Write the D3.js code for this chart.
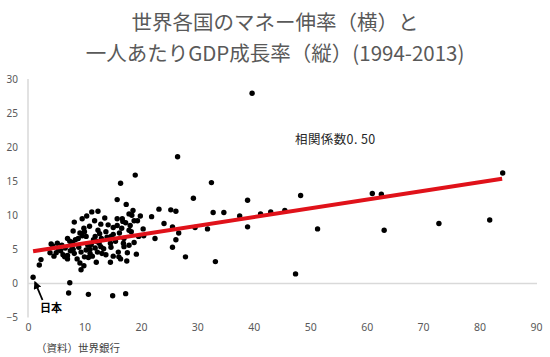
<!DOCTYPE html>
<html><head><meta charset="utf-8">
<script src="https://cdn.jsdelivr.net/npm/d3@7"></script>
<style>
html,body{margin:0;padding:0;background:#fff;}
svg{display:block;}
</style>
</head><body>
<div id="chart"></div>
<script>
// ---- data ----
const titleLines = ["世界各国のマネー伸率（横）と", "一人あたりGDP成長率（縦）(1994-2013)"];
const xTicks = [0,10,20,30,40,50,60,70,80,90];
const yTicks = [-5,0,5,10,15,20,25,30];
// money growth (x, %) of each country
const moneyGrowth = [
 0.9, 2.0, 2.3, 7.4, 7.2, 10.7,
 8.2, 9.6, 10.4, 11.3, 11.8, 12.4,
 4.1, 4.4, 5.0, 4.6, 3.9, 6.2, 6.5, 7.0, 7.0,
 7.0, 7.4, 7.9, 8.4, 8.9, 9.2, 9.6, 10.0, 10.3,
 8.7, 9.2, 9.4, 9.9,
 10.6, 11.0, 11.2, 11.6, 12.1,
 5.4, 7.5, 8.0, 8.2, 10.7, 11.0, 10.0, 5.8,
 19.0, 16.4, 15.8, 17.4, 18.6, 23.2, 18.4, 17.9, 15.8, 16.7, 16.8, 17.3, 21.9,
 18.8, 19.4, 12.9, 20.4, 15.1, 15.8, 17.9, 18.3, 12.4, 12.7, 11.9, 14.7, 15.1,
 17.0, 22.5, 24.1, 13.0, 14.0, 14.6, 14.7, 16.9, 17.0, 17.9, 12.9, 11.9, 12.3,
 13.1, 13.8, 15.1, 16.1, 16.4, 12.1, 14.6, 17.5, 15.0, 17.3,
 5.2, 6.0, 6.6, 7.8, 9.0, 9.4, 10.3, 11.4, 12.6, 13.4, 13.8, 14.2, 15.5, 16.2,
 16.0, 17.6, 18.8, 19.2, 19.6, 20.5, 13.6, 16.6, 18.1, 19.9, 10.9, 9.9, 8.0,
 26.5, 32.5, 29.3, 25.3, 26.2, 32.8, 34.7, 37.5, 25.6, 29.6, 31.8, 26.7, 26.2,
 25.6, 27.9, 33.2,
 38.9, 38.9, 39.7, 41.2, 43.0, 45.5, 48.3, 47.4, 51.3, 61.0, 62.6, 63.1, 72.8,
 81.8, 84.1
];
// per-capita GDP growth (y, %) of each country, same order
const gdpGrowth = [
 0.9, 2.7, 3.5, 0.1, -1.4, -1.6,
 9.0, 9.5, 9.9, 10.5, 9.2, 10.6,
 5.8, 5.5, 4.5, 4.0, 4.5, 4.2, 3.9, 4.1, 3.6,
 6.6, 6.2, 6.0, 6.4, 6.6, 7.4, 7.0, 7.6, 6.9,
 3.6, 3.0, 2.0, 2.6,
 5.6, 5.0, 5.7, 6.4, 6.2,
 5.0, 4.8, 5.0, 4.4, 3.8, 4.4, 3.9, 4.8,
 15.9, 14.7, 12.3, 11.6, 10.7, 10.9, 10.0, 10.2, 9.5, 9.5, 9.1, 8.9, 9.8,
 9.2, 9.2, 8.7, 8.0, 8.2, 8.5, 7.8, 7.6, 7.8, 7.3, 6.9, 6.9, 7.2,
 6.6, 6.6, 8.8, 6.6, 6.8, 5.9, 5.3, 5.9, 5.4, 5.6, 5.4, 5.2, 4.6,
 4.4, 4.2, 4.0, 3.9, 3.6, 3.1, 3.1, 3.3, -1.8, -1.5,
 5.9, 5.6, 5.2, 5.5, 5.3, 4.6, 4.9, 4.0, 5.9, 5.1, 7.6, 8.6, 6.2, 7.4,
 4.6, 4.5, 6.0, 4.3, 6.9, 7.0, 9.6, 8.1, 8.5, 9.9, 8.4, 8.1, 7.7,
 18.6, 14.8, 12.5, 10.8, 10.6, 10.4, 10.4, 9.9, 8.3, 8.2, 8.0, 7.4, 6.4,
 5.3, 3.9, 3.2,
 12.2, 8.3, 27.9, 10.2, 10.5, 10.7, 12.9, 1.4, 8.0, 13.2, 13.1, 7.8, 8.8,
 9.3, 16.2
];
// trend line (least squares, as drawn)
const trendIntercept = 4.62;
const trendSlope = 0.128;
const trendRange = [0.9, 84.0];
const corrLabel = "相関係数0. 50";
const japanLabel = "日本";
const japanPoint = [0.9, 0.9];
const sourceLabel = "（資料）世界銀行";

// ---- drawing ----
const W = 550, H = 357;
const svg = d3.select("#chart").append("svg").attr("width", W).attr("height", H);
const cjk = "'Noto Sans CJK JP','Noto Sans',sans-serif";
const num = "'Noto Sans','Liberation Sans',sans-serif";

const x = d3.scaleLinear().domain([0, 90]).range([28, 536]);
const y = d3.scaleLinear().domain([-5, 30]).range([317.5, 79]);

// title
svg.selectAll("text.title").data(titleLines).join("text")
  .attr("class","title")
  .attr("x", 275).attr("y", (d,i) => 30 + i*31)
  .attr("text-anchor","middle")
  .attr("font-family", cjk).attr("font-size", 20.5)
  .attr("fill", "#595959")
  .text(d => d);

// axis lines
svg.append("line").attr("x1", x(0)).attr("x2", x(0))
  .attr("y1", y(30)).attr("y2", y(-5))
  .attr("stroke", "#d9d9d9").attr("stroke-width", 1.5);
svg.append("line").attr("x1", x(0)).attr("x2", 537)
  .attr("y1", y(0)).attr("y2", y(0))
  .attr("stroke", "#d9d9d9").attr("stroke-width", 1.5);

// y tick labels
const yAxis = d3.axisLeft(y).tickValues(yTicks).tickSize(0).tickPadding(0).tickFormat(d3.format("d"));
const gy = svg.append("g").attr("transform", "translate(18,0)").call(yAxis);
gy.select(".domain").remove();
gy.selectAll("text").attr("font-family", num).attr("font-size", 10).attr("fill", "#595959");

// x tick labels
const xAxis = d3.axisBottom(x).tickValues(xTicks).tickSize(0).tickPadding(0).tickFormat(d3.format("d"));
const gx = svg.append("g").attr("transform", "translate(0,324)").call(xAxis);
gx.select(".domain").remove();
gx.selectAll("text").attr("font-family", num).attr("font-size", 10.5).attr("fill", "#595959");

// points
const pts = moneyGrowth.map((v,i) => [v, gdpGrowth[i]]);
svg.append("g").selectAll("circle").data(pts).join("circle")
  .attr("cx", d => x(d[0])).attr("cy", d => y(d[1]))
  .attr("r", 2.7).attr("fill", "#000");

// trend line
svg.append("line")
  .attr("x1", x(trendRange[0])).attr("y1", y(trendIntercept + trendSlope*trendRange[0]))
  .attr("x2", x(trendRange[1])).attr("y2", y(trendIntercept + trendSlope*trendRange[1]))
  .attr("stroke", "#e0121a").attr("stroke-width", 4);

// correlation label
svg.append("text").attr("x", 295).attr("y", 143.5)
  .attr("font-family", cjk).attr("font-size", 12.5).attr("fill", "#262626")
  .attr("letter-spacing", 0.4)
  .text(corrLabel);

// Japan arrow and label
const defs = svg.append("defs");
defs.append("marker").attr("id","ah").attr("viewBox","0 0 10 10")
  .attr("refX", 8).attr("refY", 5).attr("markerWidth", 4.5).attr("markerHeight", 4.5)
  .attr("orient","auto")
  .append("path").attr("d","M0,0 L10,5 L0,10 z").attr("fill","#000");
svg.append("line")
  .attr("x1", 42.5).attr("y1", 300)
  .attr("x2", x(japanPoint[0]) + 2).attr("y2", y(japanPoint[1]) + 5)
  .attr("stroke", "#000").attr("stroke-width", 1.8).attr("marker-end","url(#ah)");
svg.append("text").attr("x", 40).attr("y", 312)
  .attr("font-family", cjk).attr("font-size", 11).attr("font-weight", "bold").attr("fill", "#000")
  .text(japanLabel);

// source
svg.append("text").attr("x", 36).attr("y", 352)
  .attr("font-family", cjk).attr("font-size", 10.5).attr("fill", "#404040")
  .text(sourceLabel);
</script>
</body></html>
